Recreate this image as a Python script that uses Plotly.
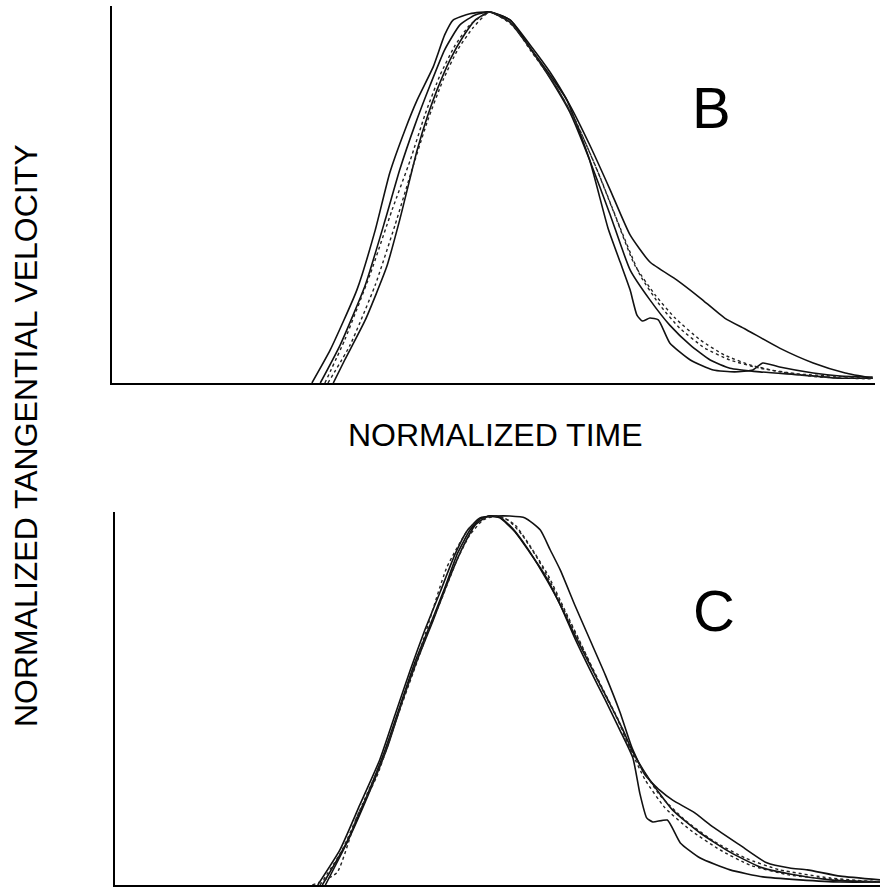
import plotly.graph_objects as go

# ---------------- Panel B data (normalized time %, normalized velocity) ----------------
b1_t = [26.2, 28.6, 32.1, 34.5, 36.4, 38.4, 40.0, 42.1, 43.6, 44.7, 46.9, 49.5, 52.1, 54.8, 57.4, 59.6,
        62.6, 65.0, 66.6, 67.9, 68.8, 69.5, 70.5, 71.6, 73.1, 75.8, 78.8, 81.6, 84.0, 85.3, 87.5, 91.9, 95.4, 99.7]
b1_v = [0.0, 0.089, 0.251, 0.412, 0.566, 0.682, 0.763, 0.852, 0.938, 0.978, 0.995, 1.0, 0.973, 0.903, 0.830, 0.763,
        0.601, 0.418, 0.326, 0.251, 0.183, 0.167, 0.175, 0.170, 0.108, 0.062, 0.035, 0.030, 0.035, 0.054, 0.043, 0.027, 0.019, 0.016]

b2_t = [29.0, 30.5, 33.2, 36.0, 37.7, 40.0, 41.4, 42.6, 44.3, 46.0, 47.6, 49.5, 52.2, 54.8, 57.4, 60.0, 62.6,
        65.3, 67.9, 70.5, 74.0, 77.1, 80.3, 83.2, 87.5, 91.9, 96.1, 99.7]
b2_v = [0.0, 0.062, 0.170, 0.313, 0.439, 0.628, 0.722, 0.790, 0.871, 0.933, 0.978, 1.0, 0.978, 0.911, 0.838, 0.749, 0.642,
        0.520, 0.399, 0.326, 0.278, 0.229, 0.175, 0.143, 0.094, 0.054, 0.027, 0.013]

b3_t = [27.3, 29.9, 33.2, 35.8, 37.7, 39.7, 41.7, 43.6, 45.6, 47.6, 49.5, 52.2, 54.8, 57.4, 60.0, 62.6, 65.3,
        67.9, 70.5, 73.1, 75.8, 78.4, 81.0, 84.9, 90.2, 95.4, 99.7]
b3_v = [0.0, 0.102, 0.264, 0.439, 0.574, 0.695, 0.803, 0.898, 0.965, 0.992, 1.0, 0.978, 0.903, 0.822, 0.730, 0.601, 0.453,
        0.305, 0.224, 0.156, 0.102, 0.062, 0.040, 0.030, 0.022, 0.013, 0.013]

b4_t = [27.9, 30.5, 33.8, 36.7, 39.1, 41.0, 43.0, 45.0, 46.9, 49.5, 52.2, 54.8, 58.1, 60.7, 63.3, 65.9, 68.5,
        71.2, 73.8, 77.1, 80.3, 83.6, 87.5, 92.8, 99.7]
b4_v = [0.0, 0.116, 0.291, 0.466, 0.601, 0.722, 0.830, 0.911, 0.965, 1.0, 0.973, 0.898, 0.803, 0.709, 0.588, 0.453, 0.318,
        0.237, 0.175, 0.116, 0.075, 0.049, 0.030, 0.016, 0.011]

b5_t = [28.3, 31.2, 34.5, 37.1, 39.3, 41.4, 43.4, 45.3, 47.3, 49.5, 52.4, 55.4, 58.5, 61.3, 64.0, 66.6, 69.2,
        71.8, 74.4, 77.7, 81.0, 84.9, 90.2, 99.7]
b5_v = [0.0, 0.102, 0.264, 0.426, 0.574, 0.709, 0.817, 0.898, 0.957, 1.0, 0.965, 0.884, 0.790, 0.682, 0.553, 0.418, 0.291,
        0.210, 0.148, 0.094, 0.062, 0.040, 0.024, 0.013]

# ---------------- Panel C data ----------------
c1_t = [26.5, 29.4, 32.0, 34.6, 36.6, 38.6, 40.5, 42.5, 44.4, 46.1, 47.7, 49.9, 51.6, 53.6, 55.6, 56.9, 58.2, 60.1,
        62.1, 64.1, 66.0, 67.6, 69.3, 71.2, 72.9, 75.6, 78.2, 81.7, 85.2, 88.2, 90.5, 94.8, 100.0]
c1_v = [0.0, 0.095, 0.217, 0.339, 0.461, 0.583, 0.691, 0.794, 0.894, 0.962, 0.995, 1.0, 1.0, 0.995, 0.962, 0.908, 0.854, 0.759,
        0.664, 0.569, 0.469, 0.371, 0.298, 0.257, 0.230, 0.198, 0.157, 0.108, 0.060, 0.046, 0.041, 0.024, 0.014]

c2_t = [27.1, 30.1, 32.7, 35.3, 37.3, 39.2, 41.2, 43.1, 44.8, 46.4, 47.7, 49.0, 50.3, 52.3, 54.2, 56.2, 58.2, 60.1,
        62.1, 64.1, 66.0, 67.7, 68.6, 69.5, 70.3, 72.2, 73.9, 76.5, 80.4, 84.7, 89.5, 94.8, 100.0]
c2_v = [0.0, 0.108, 0.230, 0.366, 0.488, 0.604, 0.705, 0.805, 0.900, 0.962, 0.992, 1.0, 0.995, 0.957, 0.902, 0.840, 0.759, 0.669,
        0.583, 0.501, 0.420, 0.344, 0.249, 0.182, 0.171, 0.176, 0.114, 0.073, 0.041, 0.022, 0.014, 0.008, 0.008]

c3_t = [27.5, 30.5, 33.1, 35.7, 37.6, 39.6, 41.6, 43.5, 45.4, 47.1, 48.8, 50.3, 51.9, 53.9, 55.9, 57.9, 59.9, 62.1,
        64.3, 66.3, 67.7, 69.9, 72.9, 76.5, 80.4, 84.3, 88.2, 93.5, 100.0]
c3_v = [0.0, 0.122, 0.244, 0.379, 0.501, 0.615, 0.718, 0.821, 0.913, 0.976, 1.0, 0.997, 0.968, 0.913, 0.846, 0.772, 0.686, 0.596,
        0.507, 0.425, 0.360, 0.285, 0.203, 0.141, 0.089, 0.049, 0.030, 0.014, 0.008]

c4_t = [25.8, 29.0, 31.6, 34.2, 35.9, 37.6, 40.3, 43.4, 46.4, 48.6, 50.3, 52.3, 54.2, 56.6, 58.8, 61.0, 63.4, 65.6,
        67.3, 69.3, 71.9, 75.2, 79.1, 83.0, 88.2, 94.8, 100.0]
c4_v = [0.0, 0.033, 0.184, 0.293, 0.393, 0.501, 0.664, 0.862, 0.970, 0.997, 1.0, 0.976, 0.921, 0.840, 0.745, 0.650, 0.542, 0.453,
        0.371, 0.285, 0.209, 0.149, 0.095, 0.054, 0.027, 0.014, 0.008]

c5_t = [26.8, 29.7, 32.3, 34.9, 37.0, 39.0, 40.9, 42.9, 44.7, 46.4, 48.1, 49.7, 51.4, 53.2, 55.2, 57.1, 59.2, 61.4,
        63.7, 65.8, 67.3, 69.0, 71.2, 74.5, 78.4, 82.4, 86.9, 93.5, 100.0]
c5_v = [0.0, 0.095, 0.217, 0.339, 0.461, 0.577, 0.686, 0.786, 0.881, 0.949, 0.989, 1.0, 0.989, 0.949, 0.886, 0.813, 0.724, 0.631,
        0.534, 0.447, 0.371, 0.312, 0.244, 0.176, 0.117, 0.073, 0.041, 0.019, 0.008]

panel_b = [(b1_t, b1_v, "solid"), (b2_t, b2_v, "solid"), (b3_t, b3_v, "solid"),
           (b4_t, b4_v, "dot"), (b5_t, b5_v, "dot")]
panel_c = [(c1_t, c1_v, "solid"), (c2_t, c2_v, "solid"), (c3_t, c3_v, "solid"),
           (c4_t, c4_v, "dot"), (c5_t, c5_v, "dot")]

panel_labels = ["B", "C"]
y_title = "NORMALIZED TANGENTIAL VELOCITY"
x_title = "NORMALIZED TIME"

fig = go.Figure()


def add_curves(curves, xa, ya):
    for t, v, dash in curves:
        fig.add_trace(go.Scatter(
            x=t, y=v, mode="lines", xaxis=xa, yaxis=ya,
            line=dict(color="#111111" if dash == "solid" else "#222222",
                      width=1.6 if dash == "solid" else 1.4, dash=dash,
                      shape="spline", smoothing=0.5),
            showlegend=False, hoverinfo="skip"))


add_curves(panel_b, "x", "y")
add_curves(panel_c, "x2", "y2")

W, H = 880, 888
axis_common = dict(showgrid=False, zeroline=False, showticklabels=False, ticks="",
                   showline=True, linecolor="black", linewidth=1.6)
FONT = "Liberation Sans, Arial, sans-serif"

fig.update_layout(
    width=W, height=H,
    margin=dict(l=0, r=0, t=0, b=0),
    paper_bgcolor="white", plot_bgcolor="white",
    xaxis=dict(domain=[112 / W, 875 / W], range=[0, 100], anchor="y", **axis_common),
    yaxis=dict(domain=[1 - 383 / H, 1 - 6 / H], range=[0, 1.016], anchor="x", **axis_common),
    xaxis2=dict(domain=[115 / W, 880 / W], range=[0, 100], anchor="y2", **axis_common),
    yaxis2=dict(domain=[1 - 885 / H, 1 - 512 / H], range=[0, 1.011], anchor="x2", **axis_common),
    annotations=[
        dict(text=y_title, x=26 / W, y=1 - 436 / H, xref="paper", yref="paper",
             textangle=-90, showarrow=False, xanchor="center", yanchor="middle",
             font=dict(family=FONT, size=32, color="black")),
        dict(text=x_title, x=496 / W, y=1 - 435 / H, xref="paper", yref="paper",
             showarrow=False, xanchor="center", yanchor="middle",
             font=dict(family=FONT, size=32, color="black")),
        dict(text=panel_labels[0], x=711 / W, y=1 - 108 / H, xref="paper", yref="paper",
             showarrow=False, xanchor="center", yanchor="middle",
             font=dict(family=FONT, size=58, color="black")),
        dict(text=panel_labels[1], x=714 / W, y=1 - 610 / H, xref="paper", yref="paper",
             showarrow=False, xanchor="center", yanchor="middle",
             font=dict(family=FONT, size=58, color="black")),
    ],
)

fig.write_html("out.html", config={"displayModeBar": False},
               post_script="document.body.style.margin='0px';document.body.style.overflow='hidden';")
